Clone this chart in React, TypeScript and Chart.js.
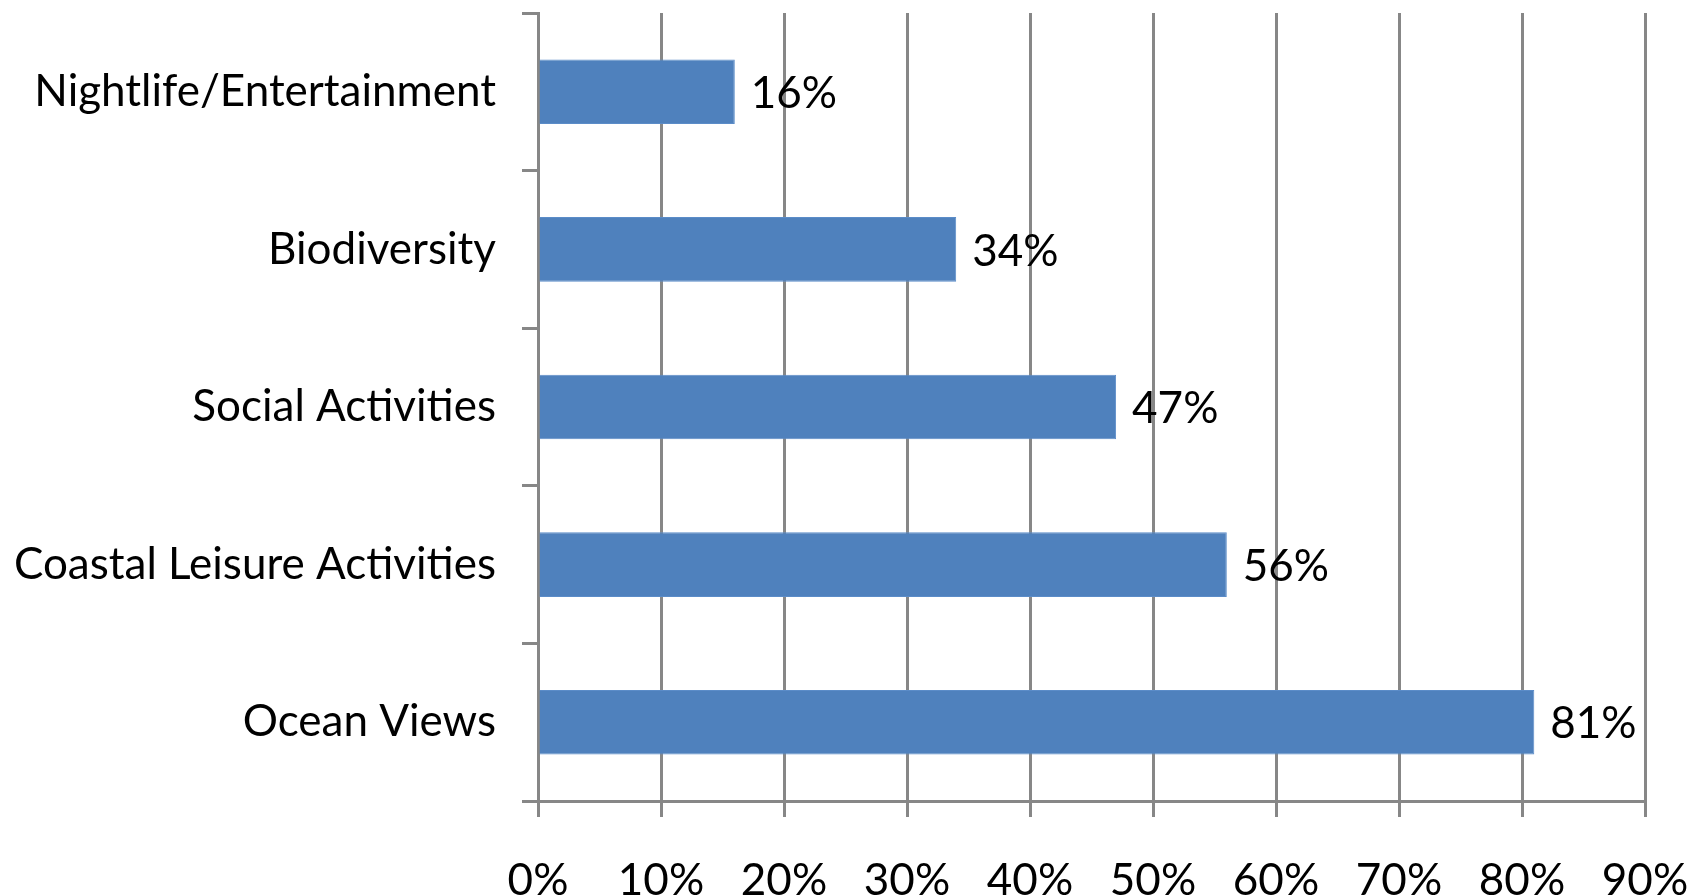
import React, { useEffect, useRef } from "react";
import { Chart, registerables } from "chart.js";

Chart.register(...registerables);

const categories = [
  "Nightlife/Entertainment",
  "Biodiversity",
  "Social Activities",
  "Coastal Leisure Activities",
  "Ocean Views",
];
const values = [16, 34, 47, 56, 81];
const xMax = 90;
const xStep = 10;

const FONT = "Lato";
const FONT_SIZE = 44;
const FONT_WEIGHT = "normal";
const GRID = "#878787";

const valueLabels = {
  id: "valueLabels",
  afterDatasetsDraw(chart: any) {
    const ctx = chart.ctx;
    const meta = chart.getDatasetMeta(0);
    ctx.save();
    ctx.font = `${FONT_WEIGHT} ${FONT_SIZE}px ${FONT}`;
    ctx.fillStyle = "#000";
    ctx.textAlign = "left";
    ctx.textBaseline = "middle";
    meta.data.forEach((bar: any, i: number) => {
      ctx.fillText(values[i] + "%", bar.x + 16, bar.y + 2);
    });
    ctx.restore();
  },
};

export default function App() {
  const ref = useRef<HTMLCanvasElement>(null);
  useEffect(() => {
    const chart = new Chart(ref.current!, {
      type: "bar",
      data: {
        labels: categories,
        datasets: [
          {
            data: values,
            backgroundColor: "#4F81BD",
            borderColor: "#5B8CC8",
            borderWidth: 1,
            barPercentage: 0.41,
            categoryPercentage: 1,
          },
        ],
      },
      options: {
        indexAxis: "y",
        responsive: false,
        animation: false,
        layout: { padding: { top: 13, right: 52, left: 0, bottom: 0 } },
        plugins: { legend: { display: false }, tooltip: { enabled: false } },
        scales: {
          x: {
            min: 0,
            max: xMax,
            ticks: {
              stepSize: xStep,
              callback: (v: any) => v + "%",
              color: "#000",
              font: { family: FONT, size: FONT_SIZE, weight: FONT_WEIGHT },
              padding: 37,
              maxRotation: 0,
            },
            grid: { color: GRID, lineWidth: 3, drawTicks: true, tickLength: 16 },
            border: { color: GRID, width: 3 },
            afterFit: (s: any) => {
              s.height = 94;
              s.paddingLeft = 0;
              s.paddingRight = 0;
            },
          },
          y: {
            ticks: {
              color: "#000",
              font: { family: FONT, size: FONT_SIZE, weight: FONT_WEIGHT },
              padding: 26,
            },
            grid: {
              offset: true,
              drawOnChartArea: false,
              drawTicks: true,
              tickLength: 16,
              color: GRID,
              lineWidth: 3,
            },
            border: { color: GRID, width: 3 },
            afterFit: (s: any) => {
              s.width = 538;
              s.paddingTop = 0;
              s.paddingBottom = 0;
            },
          },
        },
      },
      plugins: [valueLabels],
    });
    return () => chart.destroy();
  }, []);
  return (
    <div style={{ position: "fixed", left: 0, top: 0, width: 1697, height: 895, background: "#fff" }}>
      <canvas ref={ref} width={1697} height={895} style={{ width: 1697, height: 895 }} />
    </div>
  );
}
